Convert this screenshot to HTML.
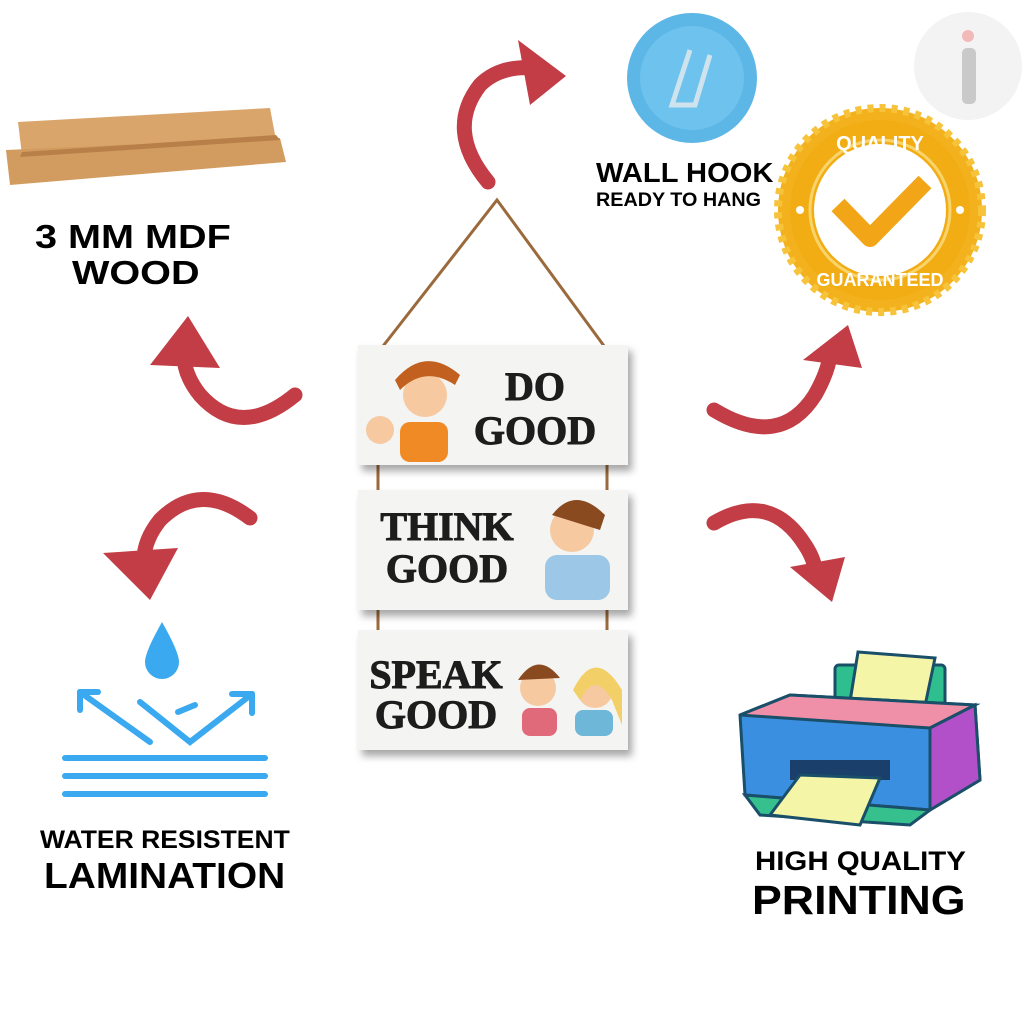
<!DOCTYPE html>
<html><head><meta charset="utf-8"><style>
html,body{margin:0;padding:0;background:#fff;}
body{width:1024px;height:1024px;overflow:hidden;position:relative;font-family:"Liberation Sans",sans-serif;}
.t{position:absolute;font-weight:bold;color:#000;white-space:nowrap;transform-origin:0 0;}
</style></head><body>
<svg width="1024" height="1024" viewBox="0 0 1024 1024" style="position:absolute;left:0;top:0">
<defs>
<filter id="sh" x="-10%" y="-10%" width="130%" height="140%"><feDropShadow dx="4" dy="6" stdDeviation="4" flood-color="#000" flood-opacity="0.35"/></filter>
</defs>
<circle cx="968" cy="66" r="54" fill="#f3f3f3"/>
<rect x="962" y="48" width="14" height="56" rx="5" fill="#c9c9c9"/>
<circle cx="968" cy="36" r="6" fill="#f2b9b9"/>
<polygon points="18,122 270,108 276,140 22,155" fill="#d9a56a"/>
<polygon points="6,150 280,138 286,162 10,185" fill="#d29b5f"/>
<polygon points="22,152 276,135 280,140 20,157" fill="#b88048"/>
<g fill="none" stroke="#c23d45" stroke-width="15" stroke-linecap="round">
<path d="M295,395 Q240,440 200,395 Q180,370 185,345"/>
<path d="M250,518 Q200,480 160,520 Q140,545 145,570"/>
<path d="M488,182 Q445,130 480,85 Q500,65 535,68"/>
<path d="M714,410 Q780,450 815,395 Q828,372 830,355"/>
<path d="M714,523 Q770,490 805,545 Q815,560 816,575"/>
</g>
<g fill="#c23d45">
<polygon points="188,316 150,365 220,368"/>
<polygon points="150,600 103,553 178,548"/>
<polygon points="566,76 518,40 530,105"/>
<polygon points="848,325 803,360 862,368"/>
<polygon points="832,602 790,567 845,557"/>
</g>
<circle cx="692" cy="78" r="65" fill="#5cb6e6"/>
<circle cx="692" cy="78" r="52" fill="#6ec2ee"/>
<path d="M690,50 L672,105 L695,105 L710,55" fill="none" stroke="#cfe3ee" stroke-width="5"/>
<circle cx="880" cy="210" r="102" fill="#f3b21d" stroke="#f6c33a" stroke-width="8" stroke-dasharray="6 6"/>
<circle cx="880" cy="210" r="90" fill="#f2ac14"/>
<circle cx="880" cy="210" r="66" fill="#fff"/>
<circle cx="880" cy="210" r="70" fill="none" stroke="#f9d46b" stroke-width="3"/>
<polyline points="838,205 870,238 925,182" fill="none" stroke="#f2a516" stroke-width="18" stroke-linejoin="round"/>
<text x="880" y="150" text-anchor="middle" font-family="Liberation Sans" font-weight="bold" font-size="20" fill="#fff">QUALITY</text>
<text x="880" y="286" text-anchor="middle" font-family="Liberation Sans" font-weight="bold" font-size="18" fill="#fff">GUARANTEED</text>
<circle cx="800" cy="210" r="4" fill="#fff"/><circle cx="960" cy="210" r="4" fill="#fff"/>
<polyline points="380,350 497,200 607,350" fill="none" stroke="#9b6a3c" stroke-width="3"/>
<g stroke="#9b6a3c" stroke-width="3"><line x1="378" y1="465" x2="378" y2="492"/><line x1="607" y1="465" x2="607" y2="492"/><line x1="378" y1="610" x2="378" y2="632"/><line x1="607" y1="610" x2="607" y2="632"/></g>
<g filter="url(#sh)" fill="#f4f4f2">
<rect x="358" y="345" width="270" height="120"/>
<rect x="358" y="490" width="270" height="120"/>
<rect x="358" y="630" width="270" height="120"/>
</g>
<g font-family="Liberation Serif" font-weight="bold" fill="#1d1d1d" stroke="#1d1d1d" stroke-width="1">
<text x="535" y="400" text-anchor="middle" font-size="40">DO</text>
<text x="535" y="444" text-anchor="middle" font-size="40">GOOD</text>
<text x="447" y="540" text-anchor="middle" font-size="40">THINK</text>
<text x="447" y="582" text-anchor="middle" font-size="40">GOOD</text>
<text x="436" y="688" text-anchor="middle" font-size="40">SPEAK</text>
<text x="436" y="728" text-anchor="middle" font-size="40">GOOD</text>
</g>
<circle cx="425" cy="395" r="22" fill="#f6c9a0"/><path d="M395,380 Q425,345 460,375 L455,385 Q425,365 400,390Z" fill="#c2611f"/>
<rect x="400" y="422" width="48" height="40" rx="10" fill="#f08a24"/><circle cx="380" cy="430" r="14" fill="#f6c9a0"/>
<circle cx="572" cy="530" r="22" fill="#f6c9a0"/><path d="M552,515 Q575,485 605,515 L600,530 Z" fill="#8a4a20"/>
<rect x="545" y="555" width="65" height="45" rx="12" fill="#9cc7e6"/>
<circle cx="538" cy="688" r="18" fill="#f6c9a0"/><path d="M518,680 Q538,650 560,678Z" fill="#8a4a20"/><rect x="522" y="708" width="35" height="28" rx="8" fill="#e06a7a"/>
<circle cx="595" cy="690" r="18" fill="#f6c9a0"/><path d="M573,690 Q595,645 622,690 L622,725 L612,700 Q595,670 580,700Z" fill="#f3d067"/><rect x="575" y="710" width="38" height="26" rx="8" fill="#6fb7d8"/>
<path d="M162,622 Q145,652 145,662 A17,17 0 0 0 179,662 Q179,652 162,622Z" fill="#3ba9ef"/>
<g stroke="#3ba9ef" stroke-width="6" fill="none" stroke-linecap="round">
<polyline points="80,692 150,742"/><polyline points="80,692 80,710"/><polyline points="80,692 98,692"/>
<polyline points="140,702 190,742 252,694"/><polyline points="252,694 232,694"/><polyline points="252,694 252,713"/>
<line x1="178" y1="712" x2="195" y2="705"/>
<line x1="65" y1="758" x2="265" y2="758"/><line x1="65" y1="776" x2="265" y2="776"/><line x1="65" y1="794" x2="265" y2="794"/>
</g>
<rect x="835" y="665" width="110" height="55" rx="4" fill="#2fbf8f" stroke="#1a4f6a" stroke-width="3"/>
<polygon points="858,652 935,658 922,720 848,714" fill="#f5f5a8" stroke="#1a4f6a" stroke-width="3"/>
<polygon points="740,715 790,695 975,705 980,780 930,810 745,795" fill="#3a8fe0" stroke="#1a4f6a" stroke-width="3"/>
<polygon points="740,715 790,695 975,705 930,728" fill="#f08fa8" stroke="#1a4f6a" stroke-width="3"/>
<polygon points="930,728 975,705 980,780 930,810" fill="#b150c8" stroke="#1a4f6a" stroke-width="3"/>
<rect x="790" y="760" width="100" height="20" fill="#1a3f6a"/>
<polygon points="745,795 930,810 910,825 760,815" fill="#36c08e" stroke="#1a4f6a" stroke-width="3"/>
<polygon points="800,775 880,778 860,825 770,815" fill="#f5f5a8" stroke="#1a4f6a" stroke-width="3"/>
</svg>
<div class="t" style="left:35px;top:218px;font-size:33px;transform:scaleX(1.2)">3 MM MDF</div>
<div class="t" style="left:72px;top:254px;font-size:33px;transform:scaleX(1.2)">WOOD</div>
<div class="t" style="left:596px;top:157px;font-size:28px;transform:scaleX(1.04)">WALL HOOK</div>
<div class="t" style="left:596px;top:190px;font-size:19px;transform:scaleX(1.04)">READY TO HANG</div>
<div class="t" style="left:40px;top:826px;font-size:25px;transform:scaleX(1.06)">WATER RESISTENT</div>
<div class="t" style="left:44px;top:855px;font-size:36px;transform:scaleX(1.08)">LAMINATION</div>
<div class="t" style="left:755px;top:846px;font-size:27px;transform:scaleX(1.09)">HIGH QUALITY</div>
<div class="t" style="left:752px;top:877px;font-size:41px;transform:scaleX(1.09)">PRINTING</div>
</body></html>
